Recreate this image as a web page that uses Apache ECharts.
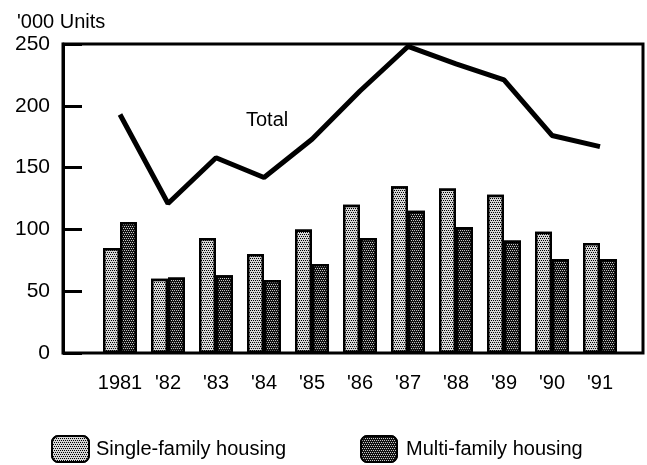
<!DOCTYPE html>
<html>
<head>
<meta charset="utf-8">
<script src="https://cdn.jsdelivr.net/npm/echarts@6/dist/echarts.min.js"></script>
<style>
html,body{margin:0;padding:0;background:#fff;}
#chart{width:647px;height:465px;}
</style>
</head>
<body>
<div id="chart"></div>
<script>
const categories = ['1981', "'82", "'83", "'84", "'85", "'86", "'87", "'88", "'89", "'90", "'91"];
const singleFamily = [85, 60, 93, 80, 100, 120, 135, 133, 128, 98, 89];
const multiFamily = [106, 61, 63, 59, 72, 93, 115, 102, 91, 76, 76];
const total = [193, 121, 158, 142, 173, 212, 248, 234, 221, 176, 167];
const yTicks = [0, 50, 100, 150, 200, 250];

const FONT = 'Liberation Sans';
const chart = echarts.init(document.getElementById('chart'), null, {renderer: 'canvas'});

const singleStyle = {
  color: '#c4c4c4',
  borderColor: '#000',
  borderWidth: 2.5,
  decal: {symbol: 'rect', symbolSize: 1, color: '#000', backgroundColor: '#d6d6d6',
          dashArrayX: [[1, 1], [0, 1, 1, 0]], dashArrayY: [1, 1]}
};
const multiStyle = {
  color: '#4a4a4a',
  borderColor: '#000',
  borderWidth: 2.5,
  decal: {symbol: 'rect', symbolSize: 1, color: '#c8c8c8', backgroundColor: '#111111',
          dashArrayX: [[1, 1], [0, 1, 1, 0]], dashArrayY: [1, 1]}
};

chart.setOption({
  animation: false,
  backgroundColor: '#ffffff',
  title: {
    text: "'000 Units",
    left: 12, top: 7,
    textStyle: {fontFamily: FONT, fontSize: 20, fontWeight: 'normal', color: '#000'}
  },
  legend: [
    {
      left: 46, top: 430,
      itemWidth: 37, itemHeight: 26,
      data: ['Single-family housing'],
      textStyle: {fontFamily: FONT, fontSize: 20, color: '#000', padding: [0, 0, 0, 2]}
    },
    {
      left: 355, top: 430,
      itemWidth: 36, itemHeight: 26,
      data: ['Multi-family housing'],
      textStyle: {fontFamily: FONT, fontSize: 20, color: '#000', padding: [0, 0, 0, 4]}
    }
  ],
  grid: [
    {left: 63, right: 4, top: 44, bottom: 112, show: true, borderColor: '#000', borderWidth: 3, backgroundColor: 'transparent'},
    {left: 96, right: 23, top: 44, bottom: 112}
  ],
  xAxis: [
    {gridIndex: 0, type: 'value', min: 0, max: 1, show: false},
    {
      gridIndex: 1, type: 'category', data: categories,
      axisLine: {show: false}, axisTick: {show: false},
      axisLabel: {interval: 0, margin: 20, fontFamily: FONT, fontSize: 20, color: '#000'}
    }
  ],
  yAxis: [
    {
      gridIndex: 0, type: 'value', min: yTicks[0], max: yTicks[yTicks.length - 1], interval: 50,
      axisLine: {show: true, lineStyle: {color: '#000', width: 3}},
      axisTick: {show: true, inside: true, length: 19, lineStyle: {color: '#000', width: 3}},
      axisLabel: {margin: 13, fontFamily: FONT, fontSize: 21, color: '#000'},
      splitLine: {show: false}
    },
    {gridIndex: 1, type: 'value', min: 0, max: 250, interval: 50, show: false, splitLine: {show: false}}
  ],
  graphic: [
    {type: 'text', left: 246, top: 110, style: {text: 'Total', fontFamily: FONT, fontSize: 20, fill: '#000'}}
  ],
  series: [
    {
      name: 'Single-family housing', type: 'bar', xAxisIndex: 1, yAxisIndex: 1,
      data: singleFamily, barWidth: 17, barGap: '0%', itemStyle: singleStyle
    },
    {
      name: 'Multi-family housing', type: 'bar', xAxisIndex: 1, yAxisIndex: 1,
      data: multiFamily, barWidth: 17, barGap: '0%', itemStyle: multiStyle
    },
    {
      name: 'Total', type: 'line', xAxisIndex: 1, yAxisIndex: 1,
      data: total, symbol: 'none', z: 5,
      lineStyle: {color: '#000', width: 5}, itemStyle: {color: '#000'}
    }
  ]
});
</script>
</body>
</html>
